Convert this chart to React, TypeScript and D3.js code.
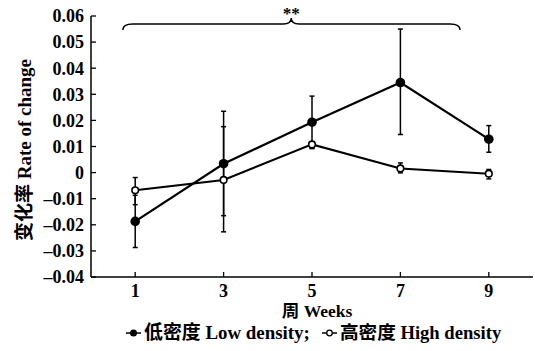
import React from "react";
import * as d3 from "d3";

const weeks = [1, 3, 5, 7, 9];
const lowMean = [-0.0187, 0.0034, 0.0193, 0.0345, 0.0128];
const lowLo = [-0.0287, -0.0227, 0.0093, 0.0146, 0.0078];
const lowHi = [-0.0087, 0.0235, 0.0293, 0.055, 0.018];
const highMean = [-0.0068, -0.0028, 0.0108, 0.0016, -0.0004];
const highLo = [-0.0123, -0.0165, 0.0092, -0.0001, -0.0024];
const highHi = [-0.0019, 0.0176, 0.0115, 0.0037, 0.0012];
const yTicks = [-0.04, -0.03, -0.02, -0.01, 0, 0.01, 0.02, 0.03, 0.04, 0.05, 0.06];
const xTicks = [1, 3, 5, 7, 9];
const braceRange = [0.72, 8.35];
const braceMid = 4.53;

const W = 535, H = 351;
const x = d3.scaleLinear().domain([0, 10]).range([91, 533]);
const y = d3.scaleLinear().domain([-0.04, 0.06]).range([277, 16]);

const serif = "'Liberation Serif', 'DejaVu Serif', serif";
const cjk = "'Noto Sans CJK SC', sans-serif";
const ink = "#000";

function fmt(v: number) {
  if (Math.abs(v) < 1e-9) return "0";
  const s = Math.abs(v).toFixed(2);
  return (v < 0 ? "\u2013" : "") + s;
}

export default function App() {
  const line = d3.line<number>().x((_, i) => x(weeks[i])).y((d) => y(d));
  const x0 = x(braceRange[0]), x1 = x(braceRange[1]), xm = x(braceMid);
  const yb = 24, yEnd = 30, yTip = 18;
  const brace = `M${x0},${yEnd} Q${x0},${yb} ${x0 + 10},${yb} L${xm - 8},${yb} Q${xm},${yb} ${xm},${yTip} Q${xm},${yb} ${xm + 8},${yb} L${x1 - 10},${yb} Q${x1},${yb} ${x1},${yEnd}`;

  const errBars = (lo: number[], hi: number[], key: string) =>
    weeks.map((w, i) => (
      <g key={key + i} stroke={ink} strokeWidth={1.5}>
        <line x1={x(w)} x2={x(w)} y1={y(lo[i])} y2={y(hi[i])} />
        <line x1={x(w) - 2.5} x2={x(w) + 2.5} y1={y(lo[i])} y2={y(lo[i])} />
        <line x1={x(w) - 2.5} x2={x(w) + 2.5} y1={y(hi[i])} y2={y(hi[i])} />
      </g>
    ));

  return (
    <svg width={W} height={H} style={{ position: "absolute", left: 0, top: 0, background: "#fff" }}>
      <rect width={W} height={H} fill="#fff" />
      {/* axes */}
      <line x1={x(0)} x2={x(0)} y1={y(0.06)} y2={y(-0.04)} stroke={ink} strokeWidth={1.5} />
      <line x1={x(0)} x2={x(10)} y1={y(-0.04)} y2={y(-0.04)} stroke={ink} strokeWidth={1.5} />
      {yTicks.map((t) => (
        <g key={"yt" + t}>
          <line x1={x(0)} x2={x(0) + 5} y1={y(t)} y2={y(t)} stroke={ink} strokeWidth={1.3} />
          <text x={x(0) - 7} y={y(t)} dy="0.35em" textAnchor="end" fontFamily={serif} fontWeight="bold" fontSize={18} fill={ink}>
            {fmt(t)}
          </text>
        </g>
      ))}
      {xTicks.map((t) => (
        <g key={"xt" + t}>
          <line x1={x(t)} x2={x(t)} y1={y(-0.04)} y2={y(-0.04) - 5} stroke={ink} strokeWidth={1.3} />
          <text x={x(t)} y={y(-0.04) + 20} textAnchor="middle" fontFamily={serif} fontWeight="bold" fontSize={18} fill={ink}>
            {t}
          </text>
        </g>
      ))}
      {/* brace */}
      <path d={brace} fill="none" stroke={ink} strokeWidth={1.5} />
      <text x={xm} y={19} textAnchor="middle" fontFamily={serif} fontWeight="bold" fontSize={17} fill={ink}>**</text>
      {/* error bars */}
      {errBars(lowLo, lowHi, "le")}
      {errBars(highLo, highHi, "he")}
      {/* lines */}
      <path d={line(highMean) || ""} fill="none" stroke={ink} strokeWidth={2} />
      <path d={line(lowMean) || ""} fill="none" stroke={ink} strokeWidth={2.2} />
      {weeks.map((w, i) => (
        <circle key={"hm" + i} cx={x(w)} cy={y(highMean[i])} r={3.3} fill="#fff" stroke={ink} strokeWidth={1.6} />
      ))}
      {weeks.map((w, i) => (
        <circle key={"lm" + i} cx={x(w)} cy={y(lowMean[i])} r={4.8} fill={ink} />
      ))}
      {/* y label */}
      <text transform={`translate(31,${150}) rotate(-90)`} textAnchor="middle" fontWeight="bold" fontSize={19} fill={ink}>
        <tspan fontFamily={cjk}>变化率</tspan>
        <tspan fontFamily={serif}> Rate of change</tspan>
      </text>
      {/* x label */}
      <text x={317} y={317} textAnchor="middle" fontWeight="bold" fontSize={17.5} fill={ink}>
        <tspan fontFamily={cjk}>周</tspan>
        <tspan fontFamily={serif}> Weeks</tspan>
      </text>
      {/* legend */}
      <g>
        <line x1={126} x2={141} y1={333} y2={333} stroke={ink} strokeWidth={1.5} />
        <circle cx={133.5} cy={333} r={3.5} fill={ink} />
        <text x={144} y={339} fontWeight="bold" fontSize={18.9} fill={ink}>
          <tspan fontFamily={cjk}>低密度</tspan>
          <tspan fontFamily={serif}> Low density;</tspan>
        </text>
        <line x1={322} x2={337} y1={333} y2={333} stroke={ink} strokeWidth={1.5} />
        <circle cx={329.5} cy={333} r={2.8} fill="#fff" stroke={ink} strokeWidth={1.3} />
        <text x={340} y={339} fontWeight="bold" fontSize={18.6} fill={ink}>
          <tspan fontFamily={cjk}>高密度</tspan>
          <tspan fontFamily={serif}> High density</tspan>
        </text>
      </g>
    </svg>
  );
}
